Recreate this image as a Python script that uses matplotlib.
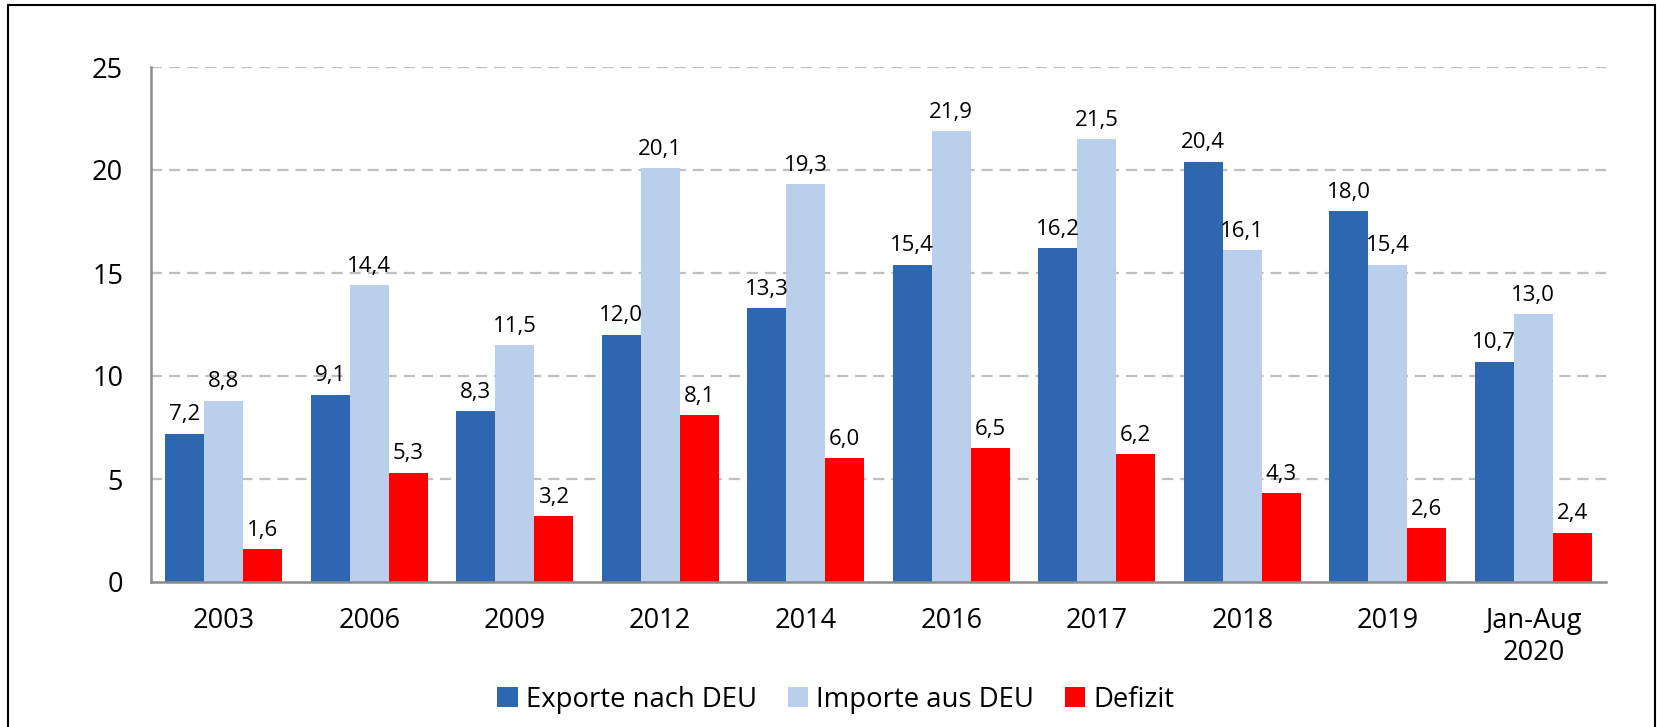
import matplotlib.pyplot as plt
import numpy as np
from matplotlib.patches import Rectangle

categories = ["2003", "2006", "2009", "2012", "2014", "2016", "2017", "2018", "2019", "Jan-Aug\n2020"]
exporte = [7.2, 9.1, 8.3, 12.0, 13.3, 15.4, 16.2, 20.4, 18.0, 10.7]
importe = [8.8, 14.4, 11.5, 20.1, 19.3, 21.9, 21.5, 16.1, 15.4, 13.0]
defizit = [1.6, 5.3, 3.2, 8.1, 6.0, 6.5, 6.2, 4.3, 2.6, 2.4]
series = [
    ("Exporte nach DEU", exporte, "#2E67B1"),
    ("Importe aus DEU", importe, "#BACFEB"),
    ("Defizit", defizit, "#FF0000"),
]

plt.rcParams["font.family"] = ["Open Sans", "DejaVu Sans"]
plt.rcParams["lines.scale_dashes"] = False

fig = plt.figure(figsize=(16.57, 7.27), dpi=100)
ax = fig.add_axes([151 / 1657, 1 - 582 / 727, (1606 - 151) / 1657, (582 - 67) / 727])

x = np.arange(len(categories))
w = 0.268
for i, (name, vals, col) in enumerate(series):
    pos = x + (i - 1) * w
    bars = ax.bar(pos, vals, width=w, color=col, label=name, zorder=3)
    for b, v in zip(bars, vals):
        ax.annotate(f"{v:.1f}".replace(".", ","),
                    (b.get_x() + b.get_width() / 2, v),
                    xytext=(0, 6), textcoords="offset points",
                    ha="center", va="bottom", fontsize=16, zorder=4)

ax.set_xlim(-0.5, len(categories) - 0.5)
ax.set_ylim(0, 25)
ax.set_yticks([0, 5, 10, 15, 20, 25])
ax.set_xticks(x)
ax.set_xticklabels(categories)
ax.tick_params(axis="both", length=0, labelsize=19.5)
ax.tick_params(axis="y", pad=20)
ax.tick_params(axis="x", pad=18)

for yv in [5, 10, 15, 20, 25]:
    ax.axhline(yv, color="#BFBFBF", linewidth=1.6, linestyle=(0, (8, 5)), zorder=1)

for s in ["top", "right"]:
    ax.spines[s].set_visible(False)
for s in ["left", "bottom"]:
    ax.spines[s].set_color("#8C8C8C")
    ax.spines[s].set_linewidth(1.8)
    ax.spines[s].set_zorder(5)

fig.legend(loc="center", bbox_to_anchor=(836 / 1657, 1 - 700 / 727), ncol=3,
           frameon=False, fontsize=19.8, handlelength=0.75, handleheight=0.75,
           handletextpad=0.3, columnspacing=1.1)

fig.patches.append(Rectangle((8 / 1657, -0.02), (1655 - 8) / 1657, 1.02 - 5 / 727,
                             transform=fig.transFigure, fill=False,
                             edgecolor="black", linewidth=1.5))

fig.savefig("out.png", dpi=100)
